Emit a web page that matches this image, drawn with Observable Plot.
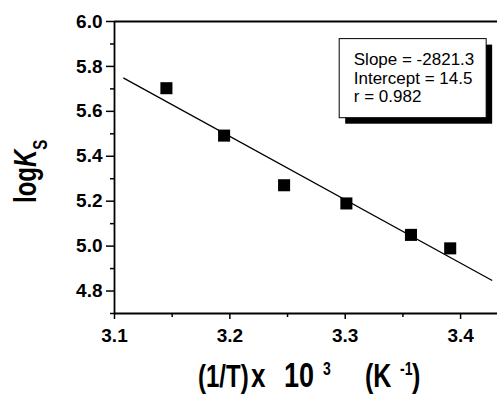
<!DOCTYPE html>
<html><head><meta charset="utf-8">
<script src="https://cdn.jsdelivr.net/npm/d3@7"></script>
<script src="https://cdn.jsdelivr.net/npm/@observablehq/plot@0.6"></script>
<style>
body{margin:0;background:#fff;}
#chart{position:relative;width:497px;height:398px;}
</style></head><body><div id="chart"></div>
<script>
// data
const invT = [3.145, 3.195, 3.247, 3.301, 3.357, 3.391];
const logKs = [5.703, 5.492, 5.271, 5.190, 5.050, 4.990];
const fitX = [3.108, 3.427];
const fitY = [5.748, 4.848];
const xTicks = [3.1, 3.2, 3.3, 3.4];
const xMinor = [3.15, 3.25, 3.35];
const yTicks = [4.8, 5.0, 5.2, 5.4, 5.6, 5.8, 6.0];
const yMinor = [4.7, 4.9, 5.1, 5.3, 5.5, 5.7, 5.9];
const statLines = ["Slope = -2821.3", "Intercept = 14.5", "r = 0.982"];

// annotation layout (data coordinates)
const boxX = [3.2952, 3.4226];
const boxY = [5.5695, 5.9216];
const statPos = [3.3074, 5.8655];

const font = "'Liberation Sans', Arial, Helvetica, sans-serif";
const points = invT.map((x, i) => ({x, y: logKs[i]}));
const fit = fitX.map((x, i) => ({x, y: fitY[i]}));

const plot = Plot.plot({
  width: 497, height: 398,
  marginLeft: 114, marginTop: 21, marginRight: 0, marginBottom: 85,
  style: {fontFamily: font, background: "white", color: "black", overflow: "visible"},
  x: {domain: [3.1, 3.432], label: null},
  y: {domain: [4.7, 6.0], label: null},
  marks: [
    Plot.axisY(yTicks, {tickSize: 8, tickPadding: 4, tickFormat: d => d.toFixed(1), fontSize: 19, fontWeight: "bold", strokeWidth: 1.5, label: null}),
    Plot.axisY(yMinor, {tickSize: 4, tickFormat: () => "", strokeWidth: 1.5, label: null}),
    Plot.axisX(xTicks, {tickSize: 6, tickPadding: 9, tickFormat: d => d.toFixed(1), fontSize: 19, fontWeight: "bold", strokeWidth: 1.5, label: null}),
    Plot.axisX(xMinor, {tickSize: 4, tickFormat: () => "", strokeWidth: 1.5, label: null}),
    Plot.ruleX([3.1], {strokeWidth: 1.8}),
    Plot.ruleY([4.7, 6.0], {strokeWidth: 1.8}),
    Plot.rect([0], {x1: boxX[0], x2: boxX[1], y1: boxY[0], y2: boxY[1], fill: "black", dx: 6, dy: 6}),
    Plot.rect([0], {x1: boxX[0], x2: boxX[1], y1: boxY[0], y2: boxY[1], fill: "white", stroke: "black", strokeWidth: 1}),
    Plot.text([statLines.join("\n")], {x: statPos[0], y: statPos[1], text: d => d, textAnchor: "start", lineAnchor: "top", fontSize: 17, lineHeight: 1.1, fill: "black"}),
    Plot.line(fit, {x: "x", y: "y", stroke: "black", strokeWidth: 1.3}),
    Plot.dot(points, {x: "x", y: "y", symbol: "square", r: 6.8, fill: "black", stroke: "none"})
  ]
});
document.getElementById("chart").append(plot);

const svg = d3.select(plot);
// x-axis title
const xt = svg.append("text")
  .attr("transform", "translate(0,387) scale(1,1.3)")
  .attr("text-anchor", "start")
  .attr("font-family", font).attr("font-weight", "bold").attr("font-size", 24).attr("fill", "black");
xt.append("tspan").attr("x", 198).text("(1/T)");
xt.append("tspan").attr("x", 251).attr("font-size", 26).text("x");
xt.append("tspan").attr("x", 284).attr("font-size", 27).text("10");
xt.append("tspan").attr("x", 323).attr("font-size", 14).attr("dy", -9).text("3");
xt.append("tspan").attr("x", 365).attr("dy", 9).attr("font-size", 25).text("(K");
xt.append("tspan").attr("x", 400).attr("font-size", 14).attr("dy", -9).text("-1");
xt.append("tspan").attr("x", 412).attr("dy", 9).attr("font-size", 25).text(")");

// y-axis title
const yt = svg.append("text")
  .attr("transform", "translate(36,203) rotate(-90) scale(1,1.3)")
  .attr("text-anchor", "start")
  .attr("font-family", font).attr("font-weight", "bold").attr("font-size", 24).attr("fill", "black");
yt.append("tspan").text("log");
yt.append("tspan").attr("font-style", "italic").text("K");
yt.append("tspan").attr("font-size", 15).attr("dy", 8.5).text("S");
</script></body></html>
